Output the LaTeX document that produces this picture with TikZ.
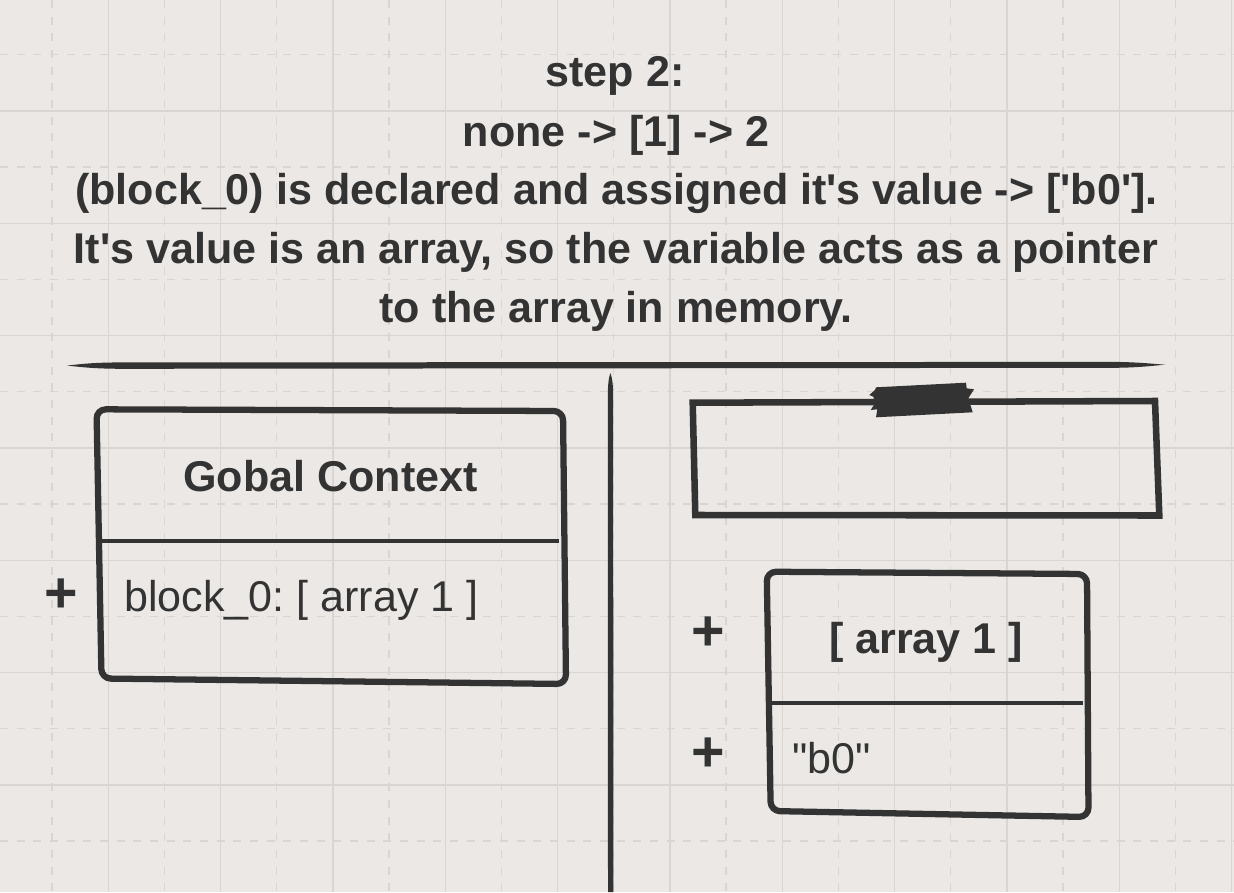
\documentclass[tikz,border=0pt]{standalone}
\usepackage{fontspec}
\setmainfont{Liberation Sans}
\definecolor{bgc}{HTML}{EBE8E5}
\definecolor{gridc}{HTML}{D8D5D2}
\definecolor{ink}{HTML}{333333}
\newcommand\txtfont{\fontsize{32.3}{38}\selectfont\frenchspacing}
\newcommand\plusfont{\fontsize{43}{50}\selectfont\bfseries}
\tikzset{
  gridsolid/.style={draw=gridc, line width=1pt},
  griddash/.style={draw=gridc, line width=1pt, dash pattern=on 6pt off 6.5pt},
  boxline/.style={draw=ink, line width=4.7pt, line join=round, rounded corners=7pt},
  flatbox/.style={draw=ink, line width=4.9pt, line join=miter},
  divider/.style={draw=ink, line width=3pt},
  inkfill/.style={fill=ink, draw=none},
  titletxt/.style={text=ink, inner sep=0pt, anchor=base, font=\txtfont\bfseries},
  headtxt/.style={text=ink, inner sep=0pt, anchor=base, font=\txtfont\bfseries},
  rowtxt/.style={text=ink, inner sep=0pt, anchor=base west, font=\txtfont},
  plustxt/.style={text=ink, inner sep=0pt, anchor=base, font=\plusfont}
}
\begin{document}
\begin{tikzpicture}[x=0.75pt,y=-0.75pt]
\useasboundingbox (0,0) rectangle (1234,892);
\fill[bgc] (0,0) rectangle (1234,892);
\begin{scope}
\clip (0,0) rectangle (1234,892);
\foreach \k in {0,2,...,20} { \draw[griddash] ({52+56.17*\k},0) -- ({52+56.17*\k},892); }
\foreach \k in {1,3,...,21} { \draw[gridsolid] ({52+56.17*\k},0) -- ({52+56.17*\k},892); }
\foreach \k in {0,2,...,14} { \draw[griddash] (0,{54.7+56.17*\k}) -- (1234,{54.7+56.17*\k}); }
\foreach \k in {1,3,...,15} { \draw[gridsolid] (0,{54.7+56.17*\k}) -- (1234,{54.7+56.17*\k}); }
\end{scope}

% title
\node[titletxt] (t1) at (615,86) {step 2:};
\node[titletxt] (t2) at (616,146) {none -> [1] -> 2};
\node[titletxt] (t3) at (616.5,204.5) {(block\_0) is declared and assigned it\textquotesingle s value -> [\textquotesingle b0\textquotesingle].};
\node[titletxt] (t4) at (616,263) {It\textquotesingle s value is an array, so the variable acts as a pointer};
\node[titletxt] (t5) at (616,322.5) {to the array in memory.};

% horizontal rule (tapered)
\fill[inkfill] (67,365.6) .. controls (85,363.5) and (95,362.6) .. (120,362.4)
  -- (1115,361.9) .. controls (1140,362.2) and (1155,364) .. (1165,364.7)
  .. controls (1155,365.5) and (1140,367.6) .. (1115,367.8)
  -- (120,368.8) .. controls (95,368.6) and (85,367.5) .. (67,365.6) -- cycle;

% vertical separator (tapered top)
\fill[inkfill] (610.4,373) .. controls (612.4,378) and (613.1,386) .. (613.2,396)
  -- (613.3,892) -- (608,892) -- (607.8,396) .. controls (607.9,386) and (608.4,378) .. (610.4,373) -- cycle;

% global context box
\draw[boxline] (96.5,409.3) -- (563,411) -- (566,684) -- (101.5,678.5) -- cycle;
\draw[divider] (102,540.7) -- (558.6,540.7);
\node[headtxt] (gch) at (330.5,491) {Gobal Context};
\node[rowtxt] (gcr) at (124,611) {block\_0: [ array 1 ]};
\node[plustxt] (gcp) at (61.6,612) {+};

% top right box
\draw[flatbox] (692.7,402.7) -- (1155,401) -- (1159.3,515.5) -- (695.3,515) -- cycle;
\fill[inkfill] (876,387.3) -- (966,382.7) -- (966.7,388.3) -- (974,389.3) -- (968.3,398.3)
  -- (972.7,412.3) -- (876,417.3) -- (877.3,409.3) -- (870.7,410) -- (875,403.3)
  -- (873.3,396.7) -- (869.3,395) -- (875,390) -- cycle;

% array 1 box
\draw[boxline] (766.7,571.7) -- (1087,574) -- (1088.5,817) -- (770.7,811) -- cycle;
\draw[divider] (771,702.8) -- (1083,702.8);
\node[headtxt] (arh) at (926,653) {[ array 1 ]};
\node[rowtxt] (arr) at (792,773) {\textquotedbl b0\textquotedbl};
\node[plustxt] (arp1) at (708,650) {+};
\node[plustxt] (arp2) at (708,771) {+};
\end{tikzpicture}
\end{document}
